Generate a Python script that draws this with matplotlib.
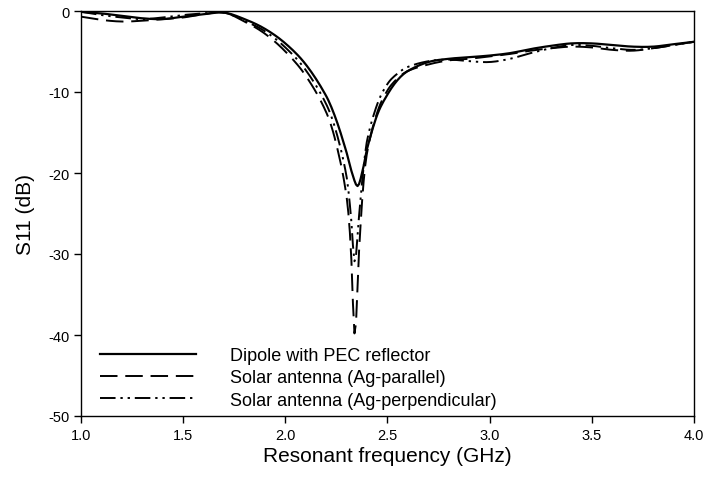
import numpy as np
import matplotlib
matplotlib.use("Agg")
import matplotlib.pyplot as plt

plt.rcParams["font.family"] = ["Liberation Sans", "DejaVu Sans"]
plt.rcParams["axes.unicode_minus"] = False

# frequency (GHz) / S11 (dB)
F_PEC = [1.0, 1.1, 1.2, 1.3, 1.4, 1.5, 1.6, 1.7, 1.8, 1.9, 2.0, 2.1, 2.2, 2.25, 2.3,
         2.33, 2.355, 2.38, 2.4, 2.45, 2.5, 2.55, 2.6, 2.7, 2.8, 2.9, 3.0, 3.1, 3.2,
         3.3, 3.4, 3.5, 3.6, 3.7, 3.8, 3.9, 4.0]
S_PEC = [-0.1, -0.3, -0.6, -0.9, -1.0, -0.7, -0.4, -0.2, -1.0, -2.2, -4.0, -6.6, -10.5,
         -13.5, -17.5, -20.3, -21.6, -19.5, -17.0, -12.8, -10.3, -8.5, -7.4, -6.3, -5.9,
         -5.7, -5.5, -5.2, -4.7, -4.3, -4.0, -4.0, -4.2, -4.4, -4.4, -4.1, -3.8]

F_PAR = [1.0, 1.1, 1.2, 1.3, 1.4, 1.5, 1.6, 1.7, 1.8, 1.9, 2.0, 2.1, 2.2, 2.25, 2.3,
         2.32, 2.34, 2.36, 2.38, 2.4, 2.45, 2.5, 2.55, 2.6, 2.7, 2.8, 2.9, 3.0, 3.1,
         3.2, 3.3, 3.4, 3.5, 3.6, 3.7, 3.8, 3.9, 4.0]
S_PAR = [-0.7, -1.1, -1.3, -1.2, -1.0, -0.8, -0.4, -0.2, -1.3, -2.8, -5.0, -8.0, -12.5,
         -16.5, -23.0, -29.0, -40.0, -30.0, -22.0, -17.5, -12.5, -9.8, -8.3, -7.4, -6.6,
         -6.1, -5.9, -5.6, -5.3, -4.9, -4.6, -4.4, -4.5, -4.8, -4.9, -4.6, -4.2, -3.8]

F_PERP = [1.0, 1.1, 1.2, 1.3, 1.4, 1.5, 1.6, 1.7, 1.8, 1.9, 2.0, 2.1, 2.2, 2.25, 2.3,
          2.32, 2.34, 2.36, 2.38, 2.4, 2.45, 2.5, 2.55, 2.6, 2.7, 2.8, 2.9, 3.0, 3.1,
          3.2, 3.3, 3.4, 3.5, 3.6, 3.7, 3.8, 3.9, 4.0]
S_PERP = [-0.1, -0.5, -0.8, -1.0, -0.8, -0.5, -0.3, -0.2, -1.2, -2.5, -4.5, -7.3, -11.5,
          -15.0, -20.5, -25.0, -31.0, -25.5, -20.0, -16.0, -11.5, -9.0, -7.7, -6.9, -6.2,
          -6.0, -6.2, -6.3, -5.9, -5.2, -4.6, -4.2, -4.3, -4.6, -4.8, -4.6, -4.2, -3.8]

LABELS = ["Dipole with PEC reflector", "Solar antenna (Ag-parallel)",
          "Solar antenna (Ag-perpendicular)"]


def smooth(x, y, n=400):
    # cubic Hermite (Catmull-Rom) through the read points
    x = np.asarray(x, float); y = np.asarray(y, float)
    xs = np.linspace(x[0], x[-1], n)
    out = np.empty_like(xs)
    for j, t in enumerate(xs):
        i = min(np.searchsorted(x, t, side="right") - 1, len(x) - 2)
        x0, x1 = x[i], x[i + 1]
        y0, y1 = y[i], y[i + 1]
        m0 = (y1 - y[i - 1]) / (x1 - x[i - 1]) if i > 0 else (y1 - y0) / (x1 - x0)
        m1 = (y[i + 2] - y0) / (x[i + 2] - x0) if i + 2 < len(x) else (y1 - y0) / (x1 - x0)
        h = x1 - x0
        s = (t - x0) / h
        out[j] = ((2 * s**3 - 3 * s**2 + 1) * y0 + (s**3 - 2 * s**2 + s) * h * m0
                  + (-2 * s**3 + 3 * s**2) * y1 + (s**3 - s**2) * h * m1)
    return xs, out


fig = plt.figure(figsize=(7.04, 4.81), dpi=100)
ax = fig.add_axes([81 / 704, 1 - 417 / 481, (694 - 81) / 704, (417 - 12) / 481])

x, y = smooth(F_PEC, S_PEC)
ax.plot(x, y, color="black", lw=1.6, ls="-", label=LABELS[0])
x, y = smooth(F_PAR, S_PAR)
ax.plot(x, y, color="black", lw=1.4, ls=(0, (9, 4)), label=LABELS[1])
x, y = smooth(F_PERP, S_PERP)
ax.plot(x, y, color="black", lw=1.4, ls=(0, (8, 2.5, 1.2, 2.5, 1.2, 2.5)), label=LABELS[2])

ax.set_xlim(1.0, 4.0)
ax.set_ylim(-50, 0)
ax.set_xticks(np.arange(1.0, 4.01, 0.5))
ax.set_xticklabels([f"{v:.1f}" for v in np.arange(1.0, 4.01, 0.5)])
ax.set_yticks(np.arange(-50, 1, 10))
ax.tick_params(direction="out", length=5, width=1, labelsize=10.5, top=False, right=False)
for s in ax.spines.values():
    s.set_linewidth(1.0)
ax.set_xlabel("Resonant frequency (GHz)", fontsize=15, labelpad=3)
ax.set_ylabel("S11 (dB)", fontsize=15, labelpad=9)

ax.legend(loc="lower left", frameon=False, fontsize=13, handlelength=5.3,
          handletextpad=1.9, labelspacing=0.3, borderaxespad=0.0,
          bbox_to_anchor=(0.02, 0.0))

fig.savefig("out.png", dpi=100)
